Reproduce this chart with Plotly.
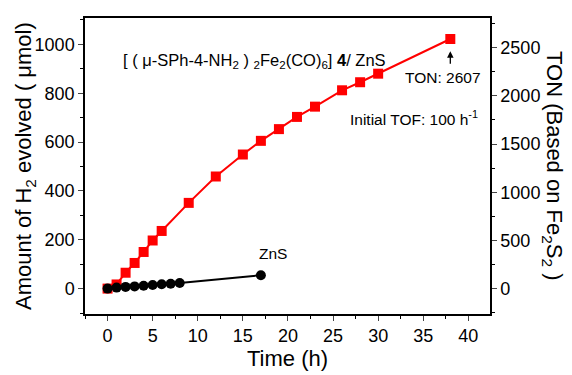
import plotly.graph_objects as go

# Data
time_fe = [0, 1, 2, 3, 4, 5, 6, 9, 12, 15, 17, 19, 21, 23, 26, 28, 30, 38]
h2_fe = [0, 17, 65, 105, 150, 197, 236, 351, 459, 549, 605, 653, 703, 745, 812, 845, 880, 1022]

time_zns = [0, 1, 2, 3, 4, 5, 6, 7, 8, 17]
h2_zns = [0, 4, 7, 9, 12, 15, 18, 20, 23, 55]

ton_per_umol = 2.534  # TON axis scale relative to µmol axis
ton_final = 2607

x_ticks = [0, 5, 10, 15, 20, 25, 30, 35, 40]
y_ticks = [0, 200, 400, 600, 800, 1000]
y2_ticks = [0, 500, 1000, 1500, 2000, 2500]

font_family = "Arial, Liberation Sans, Helvetica, sans-serif"

fig = go.Figure()

fig.add_trace(go.Scatter(
    x=time_fe, y=h2_fe, mode="lines+markers",
    line=dict(color="#ff0000", width=2),
    marker=dict(symbol="square", size=10, color="#ff0000"),
    showlegend=False, cliponaxis=False,
))
fig.add_trace(go.Scatter(
    x=time_zns, y=h2_zns, mode="lines+markers",
    line=dict(color="black", width=2),
    marker=dict(symbol="circle", size=10, color="black"),
    showlegend=False, cliponaxis=False,
))
# invisible trace to carry the TON axis
fig.add_trace(go.Scatter(
    x=time_fe, y=[v * ton_per_umol for v in h2_fe], mode="markers",
    marker=dict(size=1, opacity=0), yaxis="y2", showlegend=False, hoverinfo="skip",
))

y_range = [-104, 1108]
fig.update_layout(
    width=564, height=367,
    margin=dict(l=77, r=82, t=8, b=61),
    paper_bgcolor="white", plot_bgcolor="white",
    font=dict(family=font_family, color="black", size=18),
    xaxis=dict(
        range=[-2.5, 42.4], tickvals=x_ticks, ticks="outside", ticklen=5, tickwidth=1.3,
        showline=True, linecolor="black", linewidth=1.5, mirror=True,
        showgrid=False, zeroline=False,
        minor=dict(dtick=2.5, ticks="outside", ticklen=3, tickwidth=1.2, tickcolor="black", showgrid=False),
        title=dict(text="Time (h)", font=dict(size=22), standoff=4),
        tickfont=dict(size=18),
    ),
    yaxis=dict(
        range=y_range, tickvals=y_ticks, ticks="outside", ticklen=5, tickwidth=1.3,
        showline=True, linecolor="black", linewidth=1.5,
        showgrid=False, zeroline=False,
        minor=dict(dtick=100, ticks="outside", ticklen=3, tickwidth=1.2, tickcolor="black", showgrid=False),
        tickfont=dict(size=18),
    ),
    yaxis2=dict(
        overlaying="y", side="right",
        range=[y_range[0] * ton_per_umol, y_range[1] * ton_per_umol],
        tickvals=y2_ticks, ticks="outside", ticklen=5, tickwidth=1.3,
        showline=True, linecolor="black", linewidth=1.5,
        showgrid=False, zeroline=False,
        minor=dict(dtick=250, ticks="outside", ticklen=3, tickwidth=1.2, tickcolor="black", showgrid=False),
        tickfont=dict(size=18),
    ),
)

fig.add_annotation(
    text="Amount of H<sub>2</sub> evolved ( μmol)", textangle=-90,
    xref="paper", yref="paper", x=0, xshift=-60, y=0.5, showarrow=False,
    font=dict(size=22), xanchor="center", yanchor="middle",
)
fig.add_annotation(
    text="TON (Based on Fe<sub>2</sub>S<sub>2</sub> )", textangle=90,
    xref="paper", yref="paper", x=1.0, xshift=63, y=0.5, showarrow=False,
    font=dict(size=22), xanchor="center", yanchor="middle",
)
fig.add_annotation(
    text="[ ( μ-SPh-4-NH<sub>2</sub> ) <sub>2</sub>Fe<sub>2</sub>(CO)<sub>6</sub>] <b>4</b>/ ZnS",
    x=16.3, y=930, xref="x", yref="y", showarrow=False, font=dict(size=16.5),
)
fig.add_annotation(
    text=f"TON: {ton_final}", x=37.15, y=865, xref="x", yref="y",
    showarrow=False, font=dict(size=15.5),
)
fig.add_annotation(
    x=time_fe[-1], y=972, xref="x", yref="y",
    ax=0, ay=14, showarrow=True, arrowhead=2, arrowsize=1, arrowwidth=1.3,
    arrowcolor="black", text="",
)
fig.add_annotation(
    text="Initial TOF: 100 h<sup>-1</sup>", x=34.0, y=700, xref="x", yref="y",
    showarrow=False, font=dict(size=15.5),
)
fig.add_annotation(
    text="ZnS", x=18.3, y=143, xref="x", yref="y",
    showarrow=False, font=dict(size=15.5),
)

fig.write_html("out.html")
